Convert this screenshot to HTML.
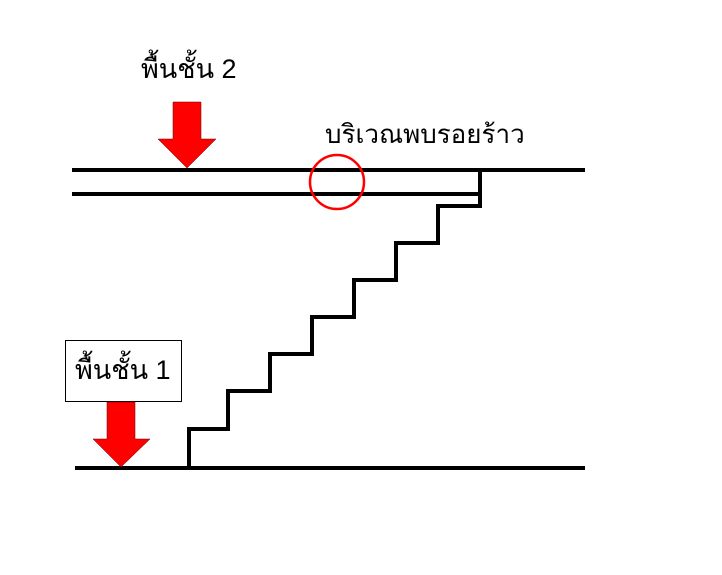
<!DOCTYPE html>
<html><head><meta charset="utf-8"><style>body{margin:0;background:#fff}svg{display:block}text{font-family:"Liberation Sans","Noto Sans CJK SC",sans-serif;fill:#000}</style></head>
<body>
<svg width="722" height="575" viewBox="0 0 722 575">
<g stroke="#000" stroke-width="4" fill="none">
<line x1="72" y1="170" x2="585" y2="170"/>
<line x1="72" y1="194" x2="480" y2="194"/>
<line x1="75" y1="468" x2="585" y2="468"/>
<polyline points="480,170 480,206 438,206 438,243 396,243 396,280 354,280 354,317 312,317 312,354 270,354 270,391 228,391 228,429 189,429 189,468"/>
</g>
<polygon points="173,102 201,102 201,139 216,139 187,168 158,139 173,139" fill="#f00" stroke="#600" stroke-width="0.5"/>
<rect x="65.5" y="340.5" width="116" height="61" fill="#fff" stroke="#000" stroke-width="1"/>
<polygon points="107,402 135,402 135,439 150,439 121,467 93,439 107,439" fill="#f00" stroke="#600" stroke-width="0.5"/>
<circle cx="337" cy="182" r="27" fill="none" stroke="#f00" stroke-width="2.5"/>
<text x="141" y="78" font-size="27">พื้นชั้น 2</text>
<text x="325" y="143" font-size="26">บริเวณพบรอยร้าว</text>
<text x="75" y="379" font-size="27">พื้นชั้น 1</text>
</svg>
</body></html>
